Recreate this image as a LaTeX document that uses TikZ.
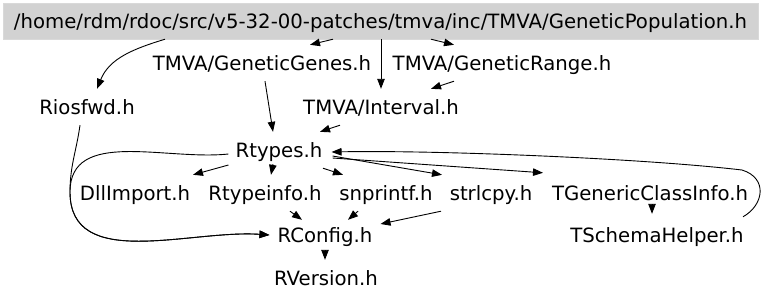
\documentclass[tikz,border=0pt]{standalone}
\usepackage{fontspec}
\setmainfont{DejaVu Sans}
\usetikzlibrary{arrows.meta}

\begin{document}
\begin{tikzpicture}[
		x=1pt, y=-1pt,
		f/.style={rectangle, inner sep=0pt, minimum height=36, text height=15pt, text depth=1pt,
			font=\fontsize{19.7}{22}\selectfont},
		top/.style={f, draw=gray!30, fill=gray!35, minimum width=755},
		e/.style={-{Triangle[length=10pt, width=7.5pt]}, line width=0.9pt}
		]
		\useasboundingbox (0,0) rectangle (768,301);
		
		%Nodes
		\node[top]	(pop)	at (380.5, 21)	{/home/rdm/rdoc/src/v5-32-00-patches/tmva/inc/TMVA/GeneticPopulation.h};
		\node[f]	(gg)	at (262, 63)	{TMVA/GeneticGenes.h};
		\node[f]	(gr)	at (502, 63)	{TMVA/GeneticRange.h};
		\node[f]	(rio)	at (87, 107)	{Riosfwd.h};
		\node[f]	(int)	at (381, 107)	{TMVA/Interval.h};
		\node[f]	(rt)	at (279, 150)	{Rtypes.h};
		\node[f]	(dll)	at (135, 193)	{DllImport.h};
		\node[f]	(rti)	at (265, 193)	{Rtypeinfo.h};
		\node[f]	(snp)	at (386, 193)	{snprintf.h};
		\node[f]	(str)	at (491, 193)	{strlcpy.h};
		\node[f]	(tgc)	at (650, 193)	{TGenericClassInfo.h};
		\node[f]	(rcf)	at (325, 235)	{RConfig.h};
		\node[f]	(tsh)	at (657, 235)	{TSchemaHelper.h};
		\node[f]	(rvr)	at (326, 278)	{RVersion.h};
		
		\coordinate (lb) at (70, 192);
		\coordinate (rb) at (742, 170);
		
		%Lines
		\draw[e] ([xshift=-215.5]pop.south) to[out=197, in=68] ([xshift=10]rio.north);
		\draw[e] ([xshift=-47.5]pop.south) -- ([xshift=48]gg.north);
		\draw[e] ([xshift=0.5]pop.south) -- (int.north);
		\draw[e] ([xshift=50.5]pop.south) -- ([xshift=-48]gr.north);
		
		\draw[e] ([xshift=3]gg.south) -- ([xshift=-6]rt.north);
		\draw[e] ([xshift=-48]gr.south) -- ([xshift=50]int.north);
		\draw[e] ([xshift=-41]int.south) -- ([xshift=41]rt.north);
		
		\draw[e] ([xshift=-7]rio.south) to[out=262, in=90] (lb) to[out=270, in=176] ([xshift=-8]rcf.west);
		\draw[e] ([shift={(-7,4)}]rt.west) to[out=186, in=90] (lb) to[out=270, in=176] ([xshift=-8]rcf.west);
		
		\draw[e] ([shift={(-7,15)}]rt.west) -- ([xshift=58]dll.north);
		\draw[e] ([shift={(-6,-4)}]rt.south) -- ([xshift=6]rti.north);
		\draw[e] ([xshift=44]rt.south) -- ([xshift=-43]snp.north);
		\draw[e] ([shift={(10,6)}]rt.east) -- ([xshift=-49]str.north);
		\draw[e] ([shift={(10,8)}]rt.east) -- ([shift={(-107,-2)}]tgc.north);
		\draw[e] ([xshift=86]tsh.north) .. controls (764,205) and (768,178) .. (rb)
			.. controls (640,158) and (430,150) .. ([shift={(9,2)}]rt.east);
		\draw[e] ([shift={(2,-7)}]tgc.south) -- ([shift={(-5,-3)}]tsh.north);
		
		\draw[e] ([xshift=25]rti.south) -- ([shift={(-23,3)}]rcf.north);
		\draw[e] ([xshift=-28]snp.south) -- ([shift={(23,3)}]rcf.north);
		\draw[e] ([xshift=-50]str.south) -- ([shift={(8,-11)}]rcf.east);
		\draw[e] ([yshift=1]rcf.south) -- ([xshift=-1]rvr.north);
		
	\end{tikzpicture}
\end{document}
